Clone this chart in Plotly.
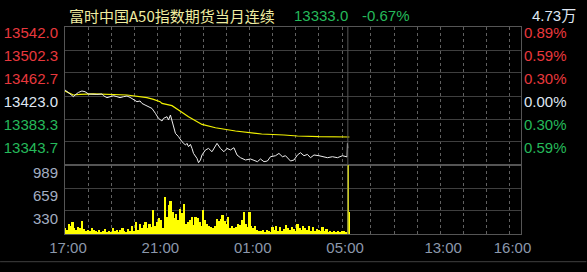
import plotly.graph_objects as go

# ---------------- data ----------------
title_text = "富时中国A50指数期货当月连续"
last_price_text = "13333.0"
change_text = "-0.67%"
total_volume_text = "4.73万"

price_ticks = [13542.0, 13502.3, 13462.7, 13423.0, 13383.3, 13343.7]
price_tick_text = ["13542.0", "13502.3", "13462.7", "13423.0", "13383.3", "13343.7"]
pct_tick_text = ["0.89%", "0.59%", "0.30%", "0.00%", "0.30%", "0.59%"]
price_range = [13304.0, 13542.0]

vol_ticks = [330, 659, 989]
vol_range = [0, 989]

time_label_times = ["17:00", "21:00", "01:00", "05:00", "13:00", "16:00"]

price_times = ["17:00","17:09","17:22","17:26","17:35","17:44","17:52","18:01","18:10","18:23",
               "18:36","18:40","18:49","18:57","19:06","19:15","19:23","19:32","19:41","19:49",
               "19:58","20:07","20:15","20:20","20:28","20:37","20:46","20:55","21:03","21:12",
               "21:16","21:25","21:29","21:34","21:38","21:42","21:47","21:55","22:04","22:13",
               "22:17","22:21","22:26","22:30","22:34","22:43","22:47","22:52","22:56","23:05",
               "23:13","23:22","23:35","23:44","23:53","00:01","00:10","00:19","00:27","00:36",
               "00:49","01:02","01:11","01:20","01:28","01:37","01:46","01:54","02:07","02:16",
               "02:25","02:33","02:46","02:55","03:04","03:12","03:21","03:30","03:38","03:47",
               "04:00","04:09","04:22","04:35","04:48","05:01","05:10","05:13","05:14","09:00"]
price_values = [13433.4,13429.2,13421.8,13424.7,13429.2,13431.6,13430.4,13426.5,13425.8,13425.8,
                13426.5,13423.5,13420.1,13421.8,13423.5,13421.8,13420.1,13421.8,13423.0,13420.6,
                13416.1,13413.2,13414.4,13410.2,13407.5,13404.5,13401.6,13393.0,13384.4,13379.9,
                13384.4,13387.3,13381.6,13390.2,13378.7,13367.1,13358.5,13352.8,13344.2,13338.5,
                13341.3,13335.6,13339.5,13332.6,13324.0,13315.4,13308.0,13312.6,13321.3,13329.9,
                13332.6,13326.9,13341.3,13332.6,13326.9,13332.6,13329.9,13333.8,13321.3,13316.6,
                13312.6,13314.4,13312.6,13309.7,13314.4,13309.7,13310.9,13318.3,13320.0,13324.0,
                13318.3,13320.0,13310.9,13312.6,13321.3,13325.2,13320.0,13322.3,13316.6,13321.3,
                13320.0,13318.3,13316.6,13318.3,13316.6,13320.0,13318.3,13318.0,13341.3,13333.0]

avg_times = ["17:00","17:22","17:39","18:14","19:41","20:07","20:33","20:50","21:07","21:12",
             "21:38","21:55","22:21","22:56","23:31","00:23","01:02","01:15","01:31","02:29",
             "03:04","04:00","05:14","09:04"]
avg_values = [13431.6,13424.7,13425.8,13426.5,13424.7,13423.0,13420.1,13417.1,13413.2,13410.2,
              13406.3,13398.9,13387.3,13374.0,13368.3,13362.6,13360.2,13358.5,13357.5,13355.7,
              13354.0,13352.8,13352.3,13352.3]

# night-session volume, one bar every 5 minutes from 17:00
night_vol_start = "17:00"
night_vol_step = 5
night_vol_values = [90,60,150,110,170,80,60,100,90,190,70,50,60,45,80,55,
                    40,30,60,25,45,70,35,50,30,80,40,55,35,60,90,45,30,70,50,110,40,175,60,
                    150,90,130,177,80,150,107,340,120,177,223,200,84,525,246,410,480,316,223,293,
                    200,363,300,430,150,177,200,246,130,246,223,177,110,350,
                    200,150,120,100,90,110,210,180,220,270,180,150,250,90,110,80,100,150,130,200,
                    316,140,100,310,110,80,120,60,
                    50,40,60,35,55,45,30,
                    100,60,110,50,105,45,70,130,80,60,100,70,50,150,90,60,110,80,60,120,50,100,40,
                    70,60,45,100,40,70,35,50,30,45,35,50,30,40,45,30]
day_vol_times = ["09:00", "09:03"]
day_vol_values = [1200, 320]

# ---------------- helpers ----------------
NIGHT_LEN = 735      # 17:00 -> 05:15
DAY_LEN = 450        # 09:00 -> 16:30


def tmin(s):
    h, m = map(int, s.split(":"))
    if h >= 17:
        return (h - 17) * 60 + m
    if h < 9:
        return (h + 7) * 60 + m
    return NIGHT_LEN + (h - 9) * 60 + m


W, H = 587, 272
ML, MR, MT, MB = 65, 65.5, 27.3, 37.7
PW, PH = W - ML - MR, H - MT - MB

RED = "#e8383d"
GREEN = "#25b95a"
WHITE = "#dfe6f2"
GRID = "#3f3f3f"
BORDER = "#555555"
DOT = "#606060"
AXISTXT = "#8c98ac"
VOLTXT = "#a3aec2"
FONT = "Liberation Sans, Arial, Noto Sans CJK SC, sans-serif"
CJK = "Noto Sans CJK SC, Liberation Sans, sans-serif"


def colored(texts, ref_index):
    out = []
    for i, t in enumerate(texts):
        c = RED if i < ref_index else (WHITE if i == ref_index else GREEN)
        out.append(f'<span style="color:{c}">{t}</span>')
    return out


px = [tmin(t) for t in price_times]
ax = [tmin(t) for t in avg_times]
vx = [tmin(night_vol_start) + i * night_vol_step for i in range(len(night_vol_values))]
vx += [tmin(t) for t in day_vol_times]
vy = night_vol_values + day_vol_values
vw = [4.4] * len(night_vol_values) + [3.0, 4.5]

hour_ticks = [tmin(f"{h:02d}:00") for h in list(range(17, 24)) + list(range(0, 6))]
hour_ticks += [tmin(f"{h:02d}:00") for h in range(10, 17)]
label_pos = {tmin(t): t for t in time_label_times}
hour_text = [label_pos.get(v, "") for v in hour_ticks]

fig = go.Figure()
fig.add_trace(go.Bar(x=vx, y=vy, xaxis="x2", yaxis="y2", width=vw,
                     marker=dict(color="#ffff00", line=dict(width=0)), showlegend=False))
fig.add_trace(go.Scatter(x=ax, y=avg_values, mode="lines", xaxis="x", yaxis="y",
                         line=dict(color="#f2f200", width=1.2), showlegend=False))
fig.add_trace(go.Scatter(x=px, y=price_values, mode="lines", xaxis="x", yaxis="y",
                         line=dict(color="#eeeeee", width=1), showlegend=False))
# dummy trace so that the right-hand percentage axis is drawn
fig.add_trace(go.Scatter(x=[None], y=[None], xaxis="x", yaxis="y3", showlegend=False))

xr = [0, NIGHT_LEN + DAY_LEN]
common_x = dict(range=xr, showgrid=True, gridcolor=DOT, griddash="dot", gridwidth=1,
                tickvals=hour_ticks, zeroline=False, showline=True, linecolor=BORDER,
                linewidth=1, mirror=True, ticks="", automargin=False)
fig.update_layout(
    template="none",
    width=W, height=H, margin=dict(l=ML, r=MR, t=MT, b=MB),
    paper_bgcolor="#000000", plot_bgcolor="#000000", bargap=0,
    font=dict(family=FONT, size=15, color=AXISTXT),
    xaxis=dict(domain=[0, 1], anchor="y", showticklabels=False, **common_x),
    xaxis2=dict(domain=[0, 1], anchor="y2", matches="x", ticktext=hour_text,
                showticklabels=True, ticklabelshift=3, ticklabelstandoff=0,
                tickfont=dict(size=15, color=AXISTXT), **common_x),
    yaxis=dict(domain=[1 / 3, 1], anchor="x", range=price_range, tickvals=price_ticks,
               ticktext=colored(price_tick_text, 3), ticklabelposition="outside bottom",
               showgrid=True, gridcolor=GRID, zeroline=False, showline=True,
               linecolor=BORDER, mirror=True, ticks="", ticklabelstandoff=3,
               ticklabelshift=-5, tickfont=dict(size=15), automargin=False),
    yaxis3=dict(overlaying="y", side="right", anchor="x", range=price_range,
                tickvals=price_ticks, ticktext=colored(pct_tick_text, 3),
                ticklabelposition="outside bottom", showgrid=False, zeroline=False,
                showline=False, ticks="", ticklabelstandoff=2, ticklabelshift=-5,
                tickfont=dict(size=15), automargin=False),
    yaxis2=dict(domain=[0, 1 / 3], anchor="x2", range=vol_range, tickvals=vol_ticks,
                ticktext=[str(v) for v in vol_ticks], ticklabelposition="outside bottom",
                showgrid=True, gridcolor=GRID, zeroline=False, showline=True,
                linecolor=BORDER, mirror=True, ticks="", ticklabelstandoff=3,
                ticklabelshift=-3, tickfont=dict(size=15, color=VOLTXT), automargin=False),
)

# session divider and bottom rule
fig.add_shape(type="line", xref="x", yref="paper", x0=NIGHT_LEN, x1=NIGHT_LEN, y0=0, y1=1,
              line=dict(color=BORDER, width=1))
fig.add_shape(type="line", xref="paper", yref="paper", x0=-ML / PW, x1=(W - ML) / PW,
              y0=(H - MB - 262) / PH, y1=(H - MB - 262) / PH, line=dict(color=GRID, width=1))


def pxx(x):
    return (x - ML) / PW


def pxy(y):
    return (H - MB - y) / PH


fig.add_annotation(text=title_text, xref="paper", yref="paper", x=pxx(67), y=pxy(15.5),
                   xanchor="left", yanchor="middle", showarrow=False,
                   font=dict(family=CJK, size=15, color="#f0eda0"))
fig.add_annotation(text=last_price_text, xref="paper", yref="paper", x=pxx(292), y=pxy(15.5),
                   xanchor="left", yanchor="middle", showarrow=False,
                   font=dict(size=15, color=GREEN))
fig.add_annotation(text=change_text, xref="paper", yref="paper", x=pxx(360), y=pxy(15.5),
                   xanchor="left", yanchor="middle", showarrow=False,
                   font=dict(size=15, color=GREEN))
fig.add_annotation(text=total_volume_text, xref="paper", yref="paper", x=pxx(579), y=pxy(15.5),
                   xanchor="right", yanchor="middle", showarrow=False,
                   font=dict(family=FONT, size=15, color=WHITE))

fig.write_html("out.html")
